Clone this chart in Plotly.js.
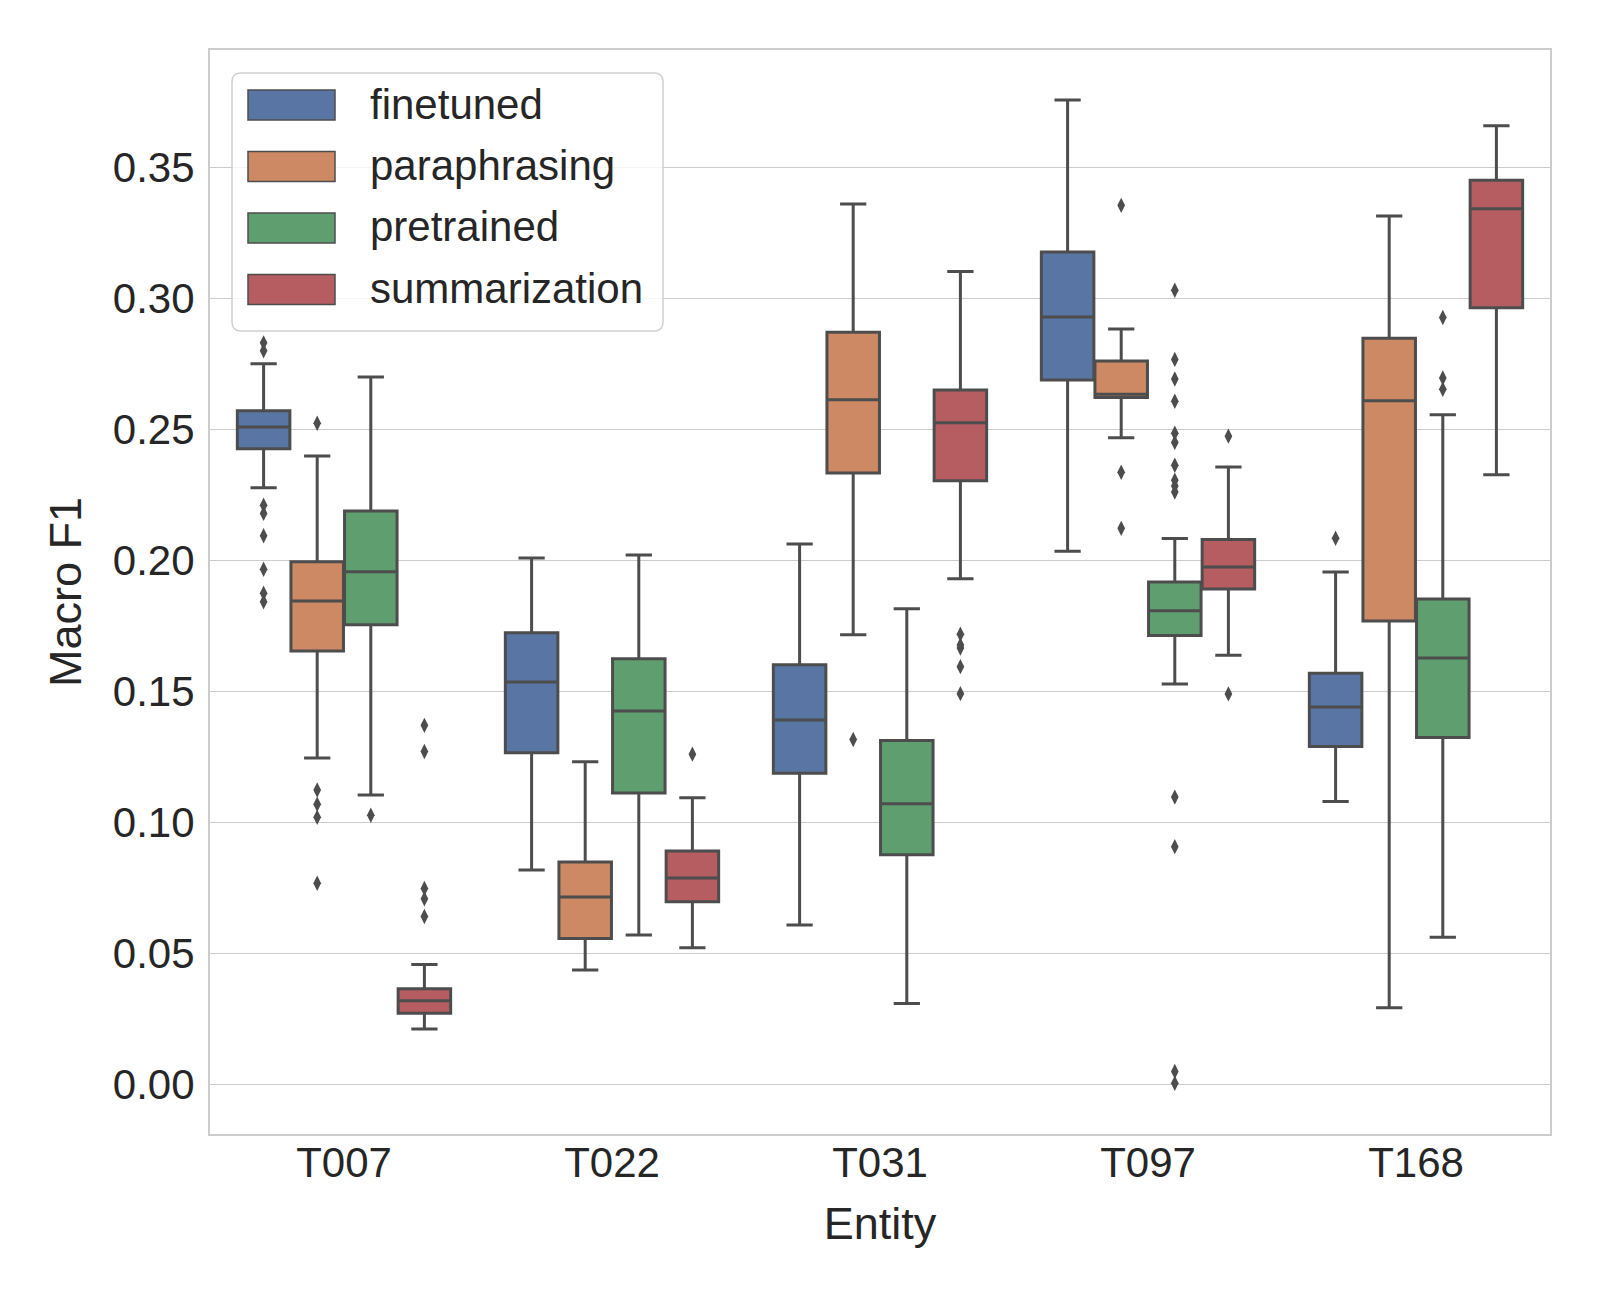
<!DOCTYPE html>
<html><head><meta charset="utf-8">
<script src="https://cdn.plot.ly/plotly-3.0.1.min.js"></script>
<style>html,body{margin:0;padding:0;background:#fff}#chart{width:1600px;height:1300px}</style>
</head><body><div id="chart"></div>
<script>
// ---------- data ----------
const categories = ['T007', 'T022', 'T031', 'T097', 'T168'];
const seriesNames = ['finetuned', 'paraphrasing', 'pretrained', 'summarization'];
const yTickValues = [0.00, 0.05, 0.10, 0.15, 0.20, 0.25, 0.30, 0.35];

const finetunedLower  = [0.2277, 0.0818, 0.0608, 0.2035, 0.1079];
const finetunedQ1     = [0.2426, 0.1265, 0.1187, 0.2688, 0.1289];
const finetunedMedian = [0.2509, 0.1535, 0.1390, 0.2929, 0.1440];
const finetunedQ3     = [0.2571, 0.1723, 0.1601, 0.3177, 0.1569];
const finetunedUpper  = [0.2750, 0.2009, 0.2062, 0.3757, 0.1955];
const finetunedOutliers = [
  [0.2830, 0.2800, 0.2210, 0.2179, 0.2094, 0.1966, 0.1874, 0.1842],
  [], [], [], [0.2084]
];

const paraphrasingLower  = [0.1245, 0.0436, 0.1716, 0.2468, 0.0292];
const paraphrasingQ1     = [0.1654, 0.0556, 0.2333, 0.2621, 0.1768];
const paraphrasingMedian = [0.1845, 0.0715, 0.2613, 0.2634, 0.2609];
const paraphrasingQ3     = [0.1994, 0.0848, 0.2871, 0.2761, 0.2848];
const paraphrasingUpper  = [0.2398, 0.1231, 0.3360, 0.2883, 0.3314];
const paraphrasingOutliers = [
  [0.2523, 0.1123, 0.1069, 0.1019, 0.0767],
  [], [0.1316], [0.3355, 0.2336, 0.2122], []
];

const pretrainedLower  = [0.1104, 0.0570, 0.0308, 0.1528, 0.0561];
const pretrainedQ1     = [0.1754, 0.1112, 0.0876, 0.1713, 0.1324];
const pretrainedMedian = [0.1956, 0.1425, 0.1071, 0.1807, 0.1627];
const pretrainedQ3     = [0.2188, 0.1624, 0.1312, 0.1917, 0.1852];
const pretrainedUpper  = [0.2700, 0.2020, 0.1815, 0.2083, 0.2556];
const pretrainedOutliers = [
  [0.1027], [], [],
  [0.3031, 0.2767, 0.2692, 0.2607, 0.2485, 0.2450, 0.2363, 0.2306, 0.2284, 0.2261, 0.1096, 0.0907, 0.0049, 0.0004],
  [0.2927, 0.2696, 0.2653]
];

const summarizationLower  = [0.0211, 0.0521, 0.1930, 0.1638, 0.2327];
const summarizationQ1     = [0.0271, 0.0697, 0.2304, 0.1890, 0.2964];
const summarizationMedian = [0.0319, 0.0787, 0.2525, 0.1974, 0.3342];
const summarizationQ3     = [0.0364, 0.0890, 0.2650, 0.2079, 0.3451];
const summarizationUpper  = [0.0457, 0.1094, 0.3102, 0.2356, 0.3659];
const summarizationOutliers = [
  [0.1370, 0.1270, 0.0747, 0.0708, 0.0640],
  [0.1260],
  [0.1718, 0.1677, 0.1665, 0.1594, 0.1491],
  [0.2474, 0.1490],
  []
];

// ---------- styling ----------
const fillColors = ['#5875a4', '#cc8963', '#5f9e6e', '#b55d60'];
const edgeColor = '#4d4d4d';
const textColor = '#262626';
const fontFamily = '"Liberation Sans", Arial, sans-serif';
const hueOffsets = [-0.3, -0.1, 0.1, 0.3];
const boxWidth = 0.196;

const stats = [
  [finetunedLower, finetunedQ1, finetunedMedian, finetunedQ3, finetunedUpper, finetunedOutliers],
  [paraphrasingLower, paraphrasingQ1, paraphrasingMedian, paraphrasingQ3, paraphrasingUpper, paraphrasingOutliers],
  [pretrainedLower, pretrainedQ1, pretrainedMedian, pretrainedQ3, pretrainedUpper, pretrainedOutliers],
  [summarizationLower, summarizationQ1, summarizationMedian, summarizationQ3, summarizationUpper, summarizationOutliers]
];

const traces = [];
seriesNames.forEach((name, k) => {
  const [lo, q1, med, q3, hi, outs] = stats[k];
  const xs = categories.map((c, i) => i + hueOffsets[k]);
  traces.push({
    type: 'box', name: name, x: xs,
    q1: q1, median: med, q3: q3, lowerfence: lo, upperfence: hi,
    width: boxWidth, fillcolor: fillColors[k],
    line: {color: edgeColor, width: 3}, whiskerwidth: 0.5,
    boxpoints: false, showlegend: false, hoverinfo: 'skip'
  });
  const ox = [], oy = [];
  outs.forEach((arr, i) => arr.forEach(v => { ox.push(i + hueOffsets[k]); oy.push(v); }));
  traces.push({
    type: 'scatter', mode: 'markers', name: name + ' outliers', x: ox, y: oy,
    marker: {symbol: 'diamond-tall', size: 11, color: edgeColor, line: {width: 0}},
    showlegend: false, hoverinfo: 'skip'
  });
});

// ---------- layout (pixel geometry) ----------
const W = 1600, H = 1300;
const mL = 210, mR = 50, mT = 50, mB = 166;
const pw = W - mL - mR, ph = H - mT - mB;
const px = v => (v - mL) / pw;
const py = v => (H - mB - v) / ph;

const shapes = [];
const annotations = [];
// legend frame (rounded)
const lx0 = 232, lx1 = 663, ly0 = 73, ly1 = 331, r = 9;
const rx = r / pw, ry = r / ph;
const X0 = px(lx0), X1 = px(lx1), Y0 = py(ly1), Y1 = py(ly0);
shapes.push({
  type: 'path', xref: 'paper', yref: 'paper', layer: 'above',
  path: `M ${X0 + rx} ${Y0} L ${X1 - rx} ${Y0} Q ${X1} ${Y0} ${X1} ${Y0 + ry} L ${X1} ${Y1 - ry} Q ${X1} ${Y1} ${X1 - rx} ${Y1} L ${X0 + rx} ${Y1} Q ${X0} ${Y1} ${X0} ${Y1 - ry} L ${X0} ${Y0 + ry} Q ${X0} ${Y0} ${X0 + rx} ${Y0} Z`,
  fillcolor: 'rgba(255,255,255,0.8)', line: {color: '#d0d0d0', width: 1.5}
});
const legendCenters = [105, 166.5, 228, 289.5];
seriesNames.forEach((name, k) => {
  const c = legendCenters[k];
  shapes.push({
    type: 'rect', xref: 'paper', yref: 'paper', layer: 'above',
    x0: px(248), x1: px(335), y0: py(c + 15), y1: py(c - 15),
    fillcolor: fillColors[k], line: {color: edgeColor, width: 1.5}
  });
  annotations.push({
    xref: 'paper', yref: 'paper', x: px(368), y: py(c - 1), xanchor: 'left', yanchor: 'middle',
    text: name, showarrow: false, font: {family: fontFamily, size: 42, color: textColor}
  });
});

const layout = {
  width: W, height: H,
  margin: {l: mL, r: mR, t: mT, b: mB},
  paper_bgcolor: '#ffffff', plot_bgcolor: '#ffffff',
  font: {family: fontFamily, color: textColor, size: 42},
  showlegend: false,
  xaxis: {
    range: [-0.5, 4.5], tickvals: categories.map((c, i) => i), ticktext: categories,
    showgrid: false, zeroline: false, showline: true, mirror: true,
    linecolor: '#cccccc', linewidth: 2, ticks: '', ticklabelstandoff: -9,
    tickfont: {size: 42, color: textColor},
    title: {text: 'Entity', font: {size: 45, color: textColor}, standoff: 22}
  },
  yaxis: {
    range: [-0.019, 0.3948], tickvals: yTickValues, tickformat: '.2f',
    showgrid: true, gridcolor: '#cccccc', gridwidth: 1.3,
    zeroline: false, showline: true, mirror: true,
    linecolor: '#cccccc', linewidth: 2, ticks: '', ticklabelstandoff: 5,
    tickfont: {size: 42, color: textColor},
    title: {text: 'Macro F1', font: {size: 45, color: textColor}, standoff: 17}
  },
  shapes: shapes,
  annotations: annotations
};

Plotly.newPlot('chart', traces, layout, {staticPlot: true, displayModeBar: false});
</script>
</body></html>
